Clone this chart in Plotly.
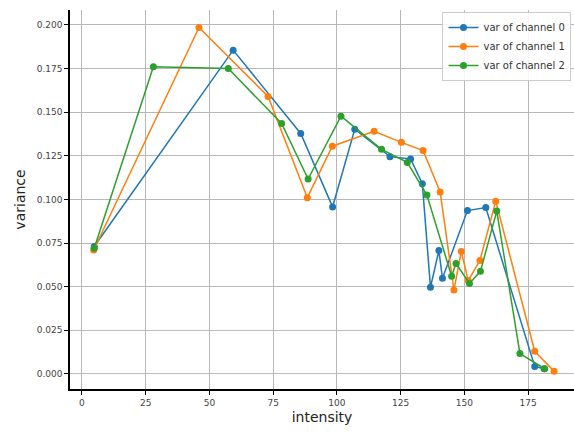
import plotly.graph_objects as go

ch0_x = [4.8, 59.3, 85.8, 98.3, 107.0, 120.8, 128.9, 133.5, 136.7, 140.0, 141.4, 151.2, 158.4, 177.6, 181.3]
ch0_y = [0.073, 0.1855, 0.1378, 0.0957, 0.1402, 0.1245, 0.1232, 0.1090, 0.0497, 0.0707, 0.0548, 0.0936, 0.0953, 0.0043, 0.0030]

ch1_x = [4.6, 45.9, 73.0, 88.4, 98.2, 114.6, 125.3, 133.8, 140.5, 145.9, 148.8, 151.5, 156.1, 162.3, 177.6, 185.2]
ch1_y = [0.071, 0.1985, 0.1590, 0.1010, 0.1305, 0.1390, 0.1327, 0.1280, 0.1043, 0.0481, 0.0702, 0.0535, 0.0650, 0.0990, 0.0130, 0.0015]

ch2_x = [4.8, 28.0, 57.4, 78.3, 88.7, 101.6, 117.5, 127.6, 135.3, 145.0, 146.7, 152.0, 156.3, 162.7, 171.8, 181.5]
ch2_y = [0.072, 0.1760, 0.1750, 0.1435, 0.1117, 0.1477, 0.1287, 0.1212, 0.1025, 0.0560, 0.0633, 0.0519, 0.0588, 0.0933, 0.0117, 0.0030]

names = ["var of channel 0", "var of channel 1", "var of channel 2"]
colors = ["#1f77b4", "#ff7f0e", "#2ca02c"]
x_ticks = [0, 25, 50, 75, 100, 125, 150, 175]
y_ticks = [0.000, 0.025, 0.050, 0.075, 0.100, 0.125, 0.150, 0.175, 0.200]

fig = go.Figure()
for xs, ys, nm, c in zip([ch0_x, ch1_x, ch2_x], [ch0_y, ch1_y, ch2_y], names, colors):
    fig.add_trace(go.Scatter(x=xs, y=ys, name=nm, mode="lines+markers",
                             line=dict(color=c, width=1.5),
                             marker=dict(color=c, size=7)))

fig.update_layout(
    width=574, height=436,
    margin=dict(l=70, r=0, t=10, b=47),
    paper_bgcolor="white", plot_bgcolor="white",
    font=dict(family="DejaVu Sans", color="#333333"),
    showlegend=True,
    legend=dict(x=0.995, y=0.995, xanchor="right", yanchor="top",
                bgcolor="rgba(255,255,255,0.85)", bordercolor="#cccccc", borderwidth=1,
                font=dict(size=10, color="#333333"), tracegroupgap=0),
    xaxis=dict(range=[-4.7, 193], tickvals=x_ticks, ticktext=[str(v) for v in x_ticks],
               showgrid=True, gridcolor="#b8b8b8", gridwidth=1, zeroline=False,
               showline=True, linecolor="black", linewidth=1.5,
               ticks="outside", ticklen=4, tickcolor="black",
               tickfont=dict(size=9, color="#444444"),
               title=dict(text="intensity", font=dict(size=14, color="#222222"), standoff=6)),
    yaxis=dict(range=[-0.0086, 0.2085], tickvals=y_ticks, ticktext=["%.3f" % v for v in y_ticks],
               showgrid=True, gridcolor="#b8b8b8", gridwidth=1, zeroline=False,
               showline=True, linecolor="black", linewidth=1.5,
               ticks="outside", ticklen=4, tickcolor="black",
               tickfont=dict(size=9, color="#444444"),
               title=dict(text="variance", font=dict(size=14, color="#222222"), standoff=8)),
)

fig.write_html("out.html")
